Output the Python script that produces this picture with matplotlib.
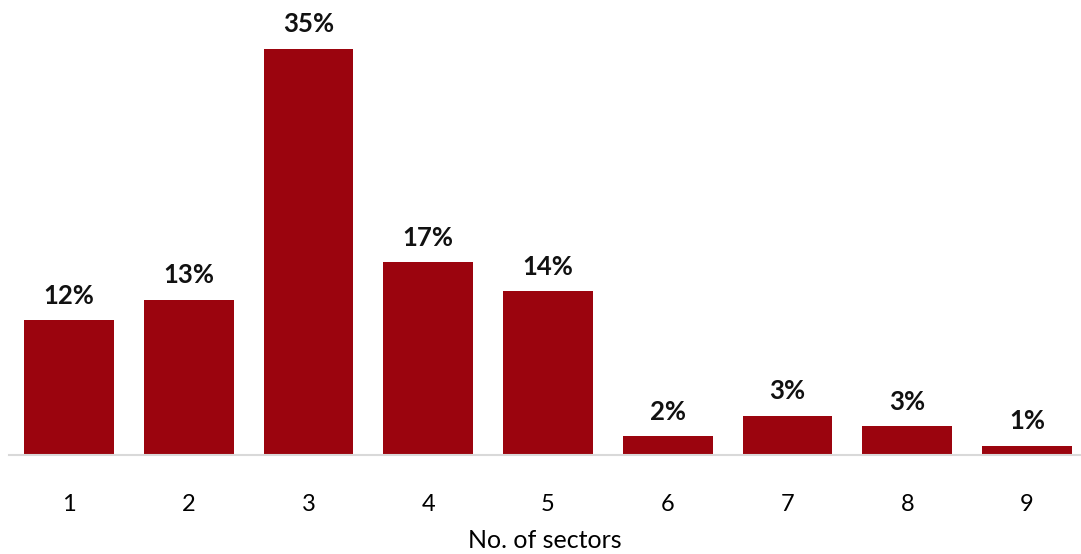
import matplotlib.pyplot as plt

# share of companies by number of sectors
categories = ['1', '2', '3', '4', '5', '6', '7', '8', '9']
values = [11.6, 13.4, 35.0, 16.6, 14.1, 1.6, 3.4, 2.5, 0.8]
labels = ['12%', '13%', '35%', '17%', '14%', '2%', '3%', '3%', '1%']

plt.rcParams['font.family'] = ['Lato', 'DejaVu Sans']

fig = plt.figure(figsize=(10.81, 5.54), dpi=100)
ax = fig.add_axes([9 / 1081, 99 / 554, 1 - 9 / 1081, 406 / 554])

x = range(len(categories))
bars = ax.bar(x, values, width=0.75, color='#9B040E')

for b, lab in zip(bars, labels):
    ax.annotate(lab, (b.get_x() + b.get_width() / 2, b.get_height()),
                xytext=(0, 9), textcoords='offset points',
                ha='center', va='bottom', fontsize=18.5, fontweight='bold',
                color='#111111')

ax.set_xlim(-0.5, 8.45)
ax.set_ylim(0, 35.0)
ax.set_xticks(list(x))
ax.set_xticklabels(categories, fontsize=17)
ax.tick_params(axis='x', length=0, pad=28)
ax.set_yticks([])
ax.set_xlabel('No. of sectors', fontsize=18, labelpad=10)

for side in ['top', 'right', 'left']:
    ax.spines[side].set_visible(False)
ax.spines['bottom'].set_color('#D9D9D9')
ax.spines['bottom'].set_linewidth(1.5)

fig.savefig('out.png', dpi=100)
